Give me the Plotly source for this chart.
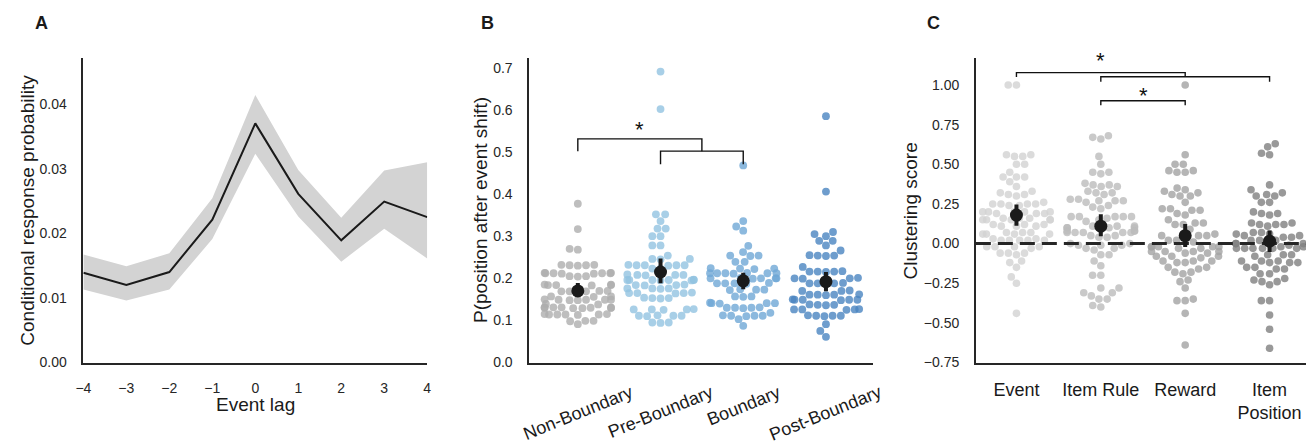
import math
import plotly.graph_objects as go

FONT = "Liberation Sans, Arial, Helvetica, sans-serif"
W, H = 1314, 445
OX, OY = 8.0, 8.0  # page body margin offset
INK = "#262626"

# ---------------- Panel A data ----------------
lags = [-4, -3, -2, -1, 0, 1, 2, 3, 4]
crp_mean = [0.0139, 0.0120, 0.0140, 0.0221, 0.0370, 0.0261, 0.0189, 0.0249, 0.0225]
crp_upper = [0.0167, 0.0149, 0.0169, 0.0254, 0.0414, 0.0298, 0.0224, 0.0297, 0.0310]
crp_lower = [0.0113, 0.0096, 0.0113, 0.0191, 0.0323, 0.0226, 0.0156, 0.0207, 0.0161]
a_yticks = [0.00, 0.01, 0.02, 0.03, 0.04]

# ---------------- Panel B data ----------------
b_categories = ["Non-Boundary", "Pre-Boundary", "Boundary", "Post-Boundary"]
non_boundary = [0.377, 0.317, 0.270, 0.268,
                0.232, 0.231, 0.231, 0.230, 0.232,
                0.213, 0.212, 0.212, 0.211, 0.213, 0.212, 0.211, 0.212,
                0.205, 0.204, 0.205,
                0.185, 0.184, 0.184, 0.183, 0.185, 0.184,
                0.170, 0.169, 0.169, 0.168, 0.170, 0.169,
                0.157, 0.156, 0.157,
                0.149, 0.148, 0.149, 0.150, 0.149, 0.148, 0.149,
                0.138, 0.139,
                0.131, 0.130, 0.130, 0.129, 0.131, 0.130, 0.130, 0.129, 0.131,
                0.115, 0.114, 0.114, 0.113, 0.115, 0.114, 0.114,
                0.099, 0.098, 0.099,
                0.091]
pre_boundary = [0.691, 0.602,
                0.352, 0.352, 0.336, 0.318, 0.318, 0.300, 0.300, 0.278, 0.278, 0.254,
                0.246, 0.246, 0.245,
                0.231, 0.231, 0.232, 0.231, 0.230, 0.231,
                0.223, 0.223,
                0.208, 0.208, 0.207, 0.208, 0.209,
                0.196, 0.196, 0.195, 0.196, 0.197, 0.196, 0.196, 0.195,
                0.184, 0.184, 0.183, 0.185,
                0.176, 0.176, 0.175, 0.176,
                0.165, 0.165, 0.164, 0.166, 0.165,
                0.153, 0.153, 0.152, 0.154,
                0.126, 0.126, 0.125, 0.127, 0.126,
                0.111, 0.111, 0.110, 0.112, 0.111,
                0.095, 0.095, 0.094]
boundary = [0.468,
            0.336, 0.323, 0.313, 0.277, 0.262,
            0.254, 0.254, 0.253,
            0.239, 0.239,
            0.223, 0.223, 0.222, 0.224,
            0.212, 0.212, 0.211, 0.212, 0.213, 0.212, 0.212,
            0.200, 0.200, 0.199, 0.201, 0.200, 0.200,
            0.188, 0.188, 0.187, 0.189, 0.188,
            0.173, 0.173, 0.172, 0.174,
            0.157, 0.157, 0.156,
            0.141, 0.141, 0.140, 0.142, 0.141,
            0.130, 0.130, 0.129, 0.131, 0.130,
            0.118,
            0.111, 0.111, 0.110, 0.112, 0.111,
            0.103,
            0.087]
post_boundary = [0.585, 0.406,
                 0.305, 0.300, 0.310,
                 0.289, 0.289, 0.278, 0.266,
                 0.254, 0.254, 0.253, 0.255,
                 0.227,
                 0.216, 0.216, 0.215, 0.217, 0.216,
                 0.200, 0.200, 0.199, 0.201,
                 0.188, 0.188, 0.187, 0.189, 0.188,
                 0.170, 0.170, 0.171,
                 0.161, 0.161, 0.160, 0.162, 0.161,
                 0.149, 0.149, 0.148, 0.150, 0.149, 0.149,
                 0.137, 0.137, 0.136, 0.138,
                 0.126, 0.126, 0.125, 0.127, 0.126,
                 0.111, 0.111, 0.110, 0.112, 0.111,
                 0.091, 0.075, 0.061]
b_means = [0.170, 0.215, 0.194, 0.192]
b_ci_low = [0.157, 0.188, 0.174, 0.169]
b_ci_high = [0.189, 0.247, 0.213, 0.215]
b_yticks = [0.0, 0.1, 0.2, 0.3, 0.4, 0.5, 0.6, 0.7]
b_colors = ["rgb(174,174,174)", "rgb(146,195,225)", "rgb(111,167,214)", "rgb(74,132,193)"]

# ---------------- Panel C data ----------------
c_categories = ["Event", "Item Rule", "Reward", "Item<br>Position"]
event = [1.00, 1.00,
         0.56, 0.56, 0.55, 0.55,
         0.50, 0.50, 0.45, 0.42, 0.42, 0.42, 0.39, 0.36,
         0.33, 0.32, 0.31, 0.31, 0.30,
         0.26, 0.25, 0.25, 0.25, 0.24, 0.24, 0.25,
         0.20, 0.20, 0.20, 0.19, 0.20, 0.19, 0.20, 0.19,
         0.16, 0.15, 0.15, 0.16, 0.15, 0.15, 0.16, 0.15,
         0.12, 0.11, 0.12, 0.11, 0.12, 0.11,
         0.07, 0.06, 0.07, 0.06, 0.06, 0.07, 0.06,
         0.02, 0.02, 0.03, 0.02, 0.02, 0.03, 0.02,
         -0.02, -0.02, -0.03, -0.02, -0.02,
         -0.06, -0.07, -0.06, -0.06,
         -0.11, -0.12, -0.15, -0.21, -0.25, -0.44]
item_rule = [0.68, 0.67, 0.66,
             0.55, 0.50,
             0.45, 0.44, 0.45,
             0.38, 0.37, 0.36, 0.37, 0.36,
             0.33, 0.32, 0.31, 0.32,
             0.28, 0.27, 0.27, 0.28, 0.27, 0.26,
             0.24, 0.23, 0.22,
             0.17, 0.17, 0.17, 0.17, 0.16, 0.17,
             0.15, 0.14,
             0.11, 0.10, 0.10, 0.11, 0.10, 0.10, 0.11, 0.10,
             0.08, 0.07, 0.07, 0.08, 0.07, 0.07, 0.08, 0.07,
             0.05, 0.04, 0.05, 0.04,
             0.00, -0.01, -0.01, 0.00, -0.01,
             -0.03, -0.03, -0.04,
             -0.07, -0.07,
             -0.11, -0.14, -0.20, -0.20,
             -0.28, -0.28, -0.31, -0.31, -0.33, -0.35, -0.35, -0.39, -0.40]
reward = [1.00,
          0.56, 0.50, 0.50,
          0.46, 0.45, 0.45, 0.46,
          0.35, 0.34, 0.33, 0.32, 0.31, 0.30, 0.30,
          0.26,
          0.22, 0.21, 0.21, 0.22,
          0.19, 0.18,
          0.15,
          0.13, 0.12, 0.12, 0.13,
          0.09,
          0.06, 0.05, 0.05, 0.06, 0.05,
          0.02, 0.01, 0.01, 0.02,
          -0.02, -0.02, -0.02, -0.03, -0.02, -0.02, -0.03,
          -0.05, -0.05, -0.06, -0.05, -0.05, -0.06,
          -0.08, -0.08, -0.09, -0.08,
          -0.11, -0.11, -0.12, -0.11, -0.12,
          -0.15, -0.16, -0.15,
          -0.18, -0.19, -0.18,
          -0.24, -0.23,
          -0.28,
          -0.35, -0.36, -0.36,
          -0.44,
          -0.64]
item_position = [0.63, 0.61, 0.57, 0.56,
                 0.37,
                 0.34, 0.31, 0.30, 0.30, 0.32,
                 0.26, 0.26,
                 0.20, 0.19, 0.19, 0.18,
                 0.13, 0.12, 0.12, 0.13, 0.12, 0.11,
                 0.07, 0.06, 0.06, 0.07,
                 0.05, 0.04, 0.05, 0.04,
                 0.02, 0.02, 0.01, 0.02,
                 0.00, 0.00, -0.01, 0.00,
                 -0.03, -0.03, -0.02, -0.03, -0.03, -0.02, -0.03, -0.03,
                 -0.07, -0.07, -0.08, -0.07,
                 -0.11, -0.12, -0.11, -0.12, -0.11, -0.12,
                 -0.16, -0.15, -0.16, -0.15,
                 -0.19, -0.19,
                 -0.24, -0.24, -0.23, -0.22, -0.26,
                 -0.36, -0.36,
                 -0.45,
                 -0.54,
                 -0.66]
c_means = [0.180, 0.110, 0.050, 0.015]
c_ci_low = [0.113, 0.046, -0.022, -0.053]
c_ci_high = [0.247, 0.185, 0.123, 0.082]
c_yticks = [-0.75, -0.50, -0.25, 0.00, 0.25, 0.50, 0.75, 1.00]
c_colors = ["rgb(210,210,210)", "rgb(188,188,188)", "rgb(162,162,162)", "rgb(128,128,128)"]

# ---------------- geometry (screen pixels of the target) ----------------
TOP, BOT = 59.0, 369.0
A_X = (76.0, 423.0)
B_X = (526.0, 873.0)
C_X = (976.7, 1314.0)
A_YR = [0.0, 0.0471]
B_YR = [0.0, 0.723]
C_YR = [-0.75, 1.17]
B_XR = [-0.587, 3.57]
C_XR = [-0.481, 3.48]


def fx(px):
    return (px - OX) / W


def fy(py):
    return 1.0 - (py - OY) / H


def swarm(values, ypx, xpx, d=8.3, half=33.0):
    order = sorted(range(len(values)), key=lambda i: values[i])
    placed = []
    raw = [0.0] * len(values)
    for i in order:
        y = values[i] * ypx
        near = [(px, py) for px, py in placed if abs(py - y) < d]
        cands = [0.0]
        for px, py in near:
            dx = math.sqrt(max(d * d - (py - y) ** 2, 0.0))
            cands += [px - dx, px + dx]
        cands.sort(key=lambda c: (round(abs(c), 6), c))
        chosen = 0.0
        for c in cands:
            if all((c - px) ** 2 + (y - py) ** 2 >= d * d - 1e-6 for px, py in near):
                chosen = c
                break
        placed.append((chosen, y))
        raw[i] = chosen
    return [max(-half, min(half, r)) / xpx for r in raw]


fig = go.Figure()

# ---- Panel A ----
fig.add_trace(go.Scatter(x=lags, y=crp_upper, mode="lines", line=dict(width=0),
                         hoverinfo="skip", showlegend=False, xaxis="x", yaxis="y"))
fig.add_trace(go.Scatter(x=lags, y=crp_lower, mode="lines", line=dict(width=0),
                         fill="tonexty", fillcolor="rgb(211,211,211)",
                         hoverinfo="skip", showlegend=False, xaxis="x", yaxis="y"))
fig.add_trace(go.Scatter(x=lags, y=crp_mean, mode="lines", line=dict(color="#1a1a1a", width=2),
                         showlegend=False, xaxis="x", yaxis="y"))

# ---- Panel B ----
b_ypx = (BOT - TOP) / (B_YR[1] - B_YR[0])
b_xpx = (B_X[1] - B_X[0]) / (B_XR[1] - B_XR[0])
for k, vals in enumerate([non_boundary, pre_boundary, boundary, post_boundary]):
    offs = swarm(vals, b_ypx, b_xpx, d=8.3, half=33.5)
    fig.add_trace(go.Scatter(x=[k + o for o in offs], y=vals, mode="markers",
                             marker=dict(size=7.8, color=b_colors[k], opacity=0.8, line=dict(width=0)),
                             showlegend=False, xaxis="x2", yaxis="y2"))
fig.add_trace(go.Scatter(x=list(range(4)), y=b_means, mode="markers",
                         marker=dict(size=13, color="#1a1a1a"),
                         error_y=dict(type="data", array=[h - m for h, m in zip(b_ci_high, b_means)],
                                      arrayminus=[m - l for m, l in zip(b_means, b_ci_low)],
                                      thickness=4, width=0, color="#1a1a1a"),
                         showlegend=False, xaxis="x2", yaxis="y2"))

# ---- Panel C ----
c_ypx = (BOT - TOP) / (C_YR[1] - C_YR[0])
c_xpx = (C_X[1] - C_X[0]) / (C_XR[1] - C_XR[0])
for k, vals in enumerate([event, item_rule, reward, item_position]):
    offs = swarm(vals, c_ypx, c_xpx, d=8.3, half=34.0)
    fig.add_trace(go.Scatter(x=[k + o for o in offs], y=vals, mode="markers",
                             marker=dict(size=7.6, color=c_colors[k], opacity=0.8, line=dict(width=0)),
                             showlegend=False, xaxis="x3", yaxis="y3"))
fig.add_trace(go.Scatter(x=C_XR, y=[0, 0], mode="lines",
                         line=dict(color=INK, width=3, dash="15px,7px"),
                         showlegend=False, xaxis="x3", yaxis="y3"))
fig.add_trace(go.Scatter(x=list(range(4)), y=c_means, mode="markers",
                         marker=dict(size=13, color="#1a1a1a"),
                         error_y=dict(type="data", array=[h - m for h, m in zip(c_ci_high, c_means)],
                                      arrayminus=[m - l for m, l in zip(c_means, c_ci_low)],
                                      thickness=4, width=0, color="#1a1a1a"),
                         showlegend=False, xaxis="x3", yaxis="y3"))

# ---- brackets ----
def bracket(xa, ya, x0, x1, y, y0_end, y1_end):
    fig.add_shape(type="path",
                  path=f"M {x0},{y0_end} L {x0},{y} L {x1},{y} L {x1},{y1_end}",
                  xref=xa, yref=ya, line=dict(color="#111111", width=1.4), layer="above")

bracket("x2", "y2", 0, 1.5, 0.531, 0.502, 0.502)
bracket("x2", "y2", 1, 2, 0.502, 0.471, 0.471)
bracket("x3", "y3", 0, 2, 1.078, 1.050, 1.052)
bracket("x3", "y3", 1, 3, 1.052, 1.021, 1.021)
bracket("x3", "y3", 1, 2, 0.901, 0.872, 0.872)

annotations = []
STAR_FONT = dict(family=FONT, size=22, color="#111111")
annotations.append(dict(text="*", x=0.75, y=0.565, xref="x2", yref="y2", showarrow=False,
                        xanchor="center", yanchor="middle", yshift=-5, font=STAR_FONT))
annotations.append(dict(text="*", x=1.0, y=fy(56.7), xref="x3", yref="paper", showarrow=False,
                        xanchor="center", yanchor="middle", yshift=-5, font=STAR_FONT))
annotations.append(dict(text="*", x=1.5, y=0.965, xref="x3", yref="y3", showarrow=False,
                        xanchor="center", yanchor="middle", yshift=-5, font=STAR_FONT))

# panel letters
for letter, x in [("A", 33.5), ("B", 483.7), ("C", 934.0)]:
    annotations.append(dict(text=f"<b>{letter}</b>", x=fx(x), y=fy(23), xref="paper", yref="paper",
                            showarrow=False, xanchor="center", yanchor="middle",
                            font=dict(family=FONT, size=18, color="#1a1a1a")))

# axis titles
TITLE_FONT = dict(family=FONT, size=19, color="#1a1a1a")
annotations.append(dict(text="Conditional response probability", x=fx(19.5), y=fy(214), xref="paper",
                        yref="paper", textangle=-90, showarrow=False, xanchor="center",
                        yanchor="middle", font=TITLE_FONT))
annotations.append(dict(text="Event lag", x=fx(249.5), y=fy(412), xref="paper", yref="paper",
                        showarrow=False, xanchor="center", yanchor="middle", font=TITLE_FONT))
annotations.append(dict(text="P(position after event shift)", x=fx(477), y=fy(214), xref="paper",
                        yref="paper", textangle=-90, showarrow=False, xanchor="center",
                        yanchor="middle", font=TITLE_FONT))
annotations.append(dict(text="Clustering score", x=fx(910.5), y=fy(215), xref="paper",
                        yref="paper", textangle=-90, showarrow=False, xanchor="center",
                        yanchor="middle", font=TITLE_FONT))
# rotated category labels for panel B
for k, name in enumerate(b_categories):
    annotations.append(dict(text=name, x=k, y=fy(386), xref="x2", yref="paper", textangle=-22,
                            showarrow=False, xanchor="center", yanchor="top",
                            font=dict(family=FONT, size=18, color="#1a1a1a")))

TICK_FONT = dict(family=FONT, size=14, color=INK)
common_axis = dict(showline=True, linecolor=INK, linewidth=1.6, showgrid=False, zeroline=False,
                   ticks="", tickfont=TICK_FONT, fixedrange=True)
ydom = [fy(BOT), fy(TOP)]

c_dom_end = min(1.0, fx(C_X[1]) + 0.02)
c_range_end = C_XR[0] + (C_XR[1] - C_XR[0]) * (c_dom_end - fx(C_X[0])) / (fx(C_X[1]) - fx(C_X[0]))

fig.update_layout(
    width=W, height=H, margin=dict(l=0, r=0, t=0, b=0),
    paper_bgcolor="white", plot_bgcolor="white", showlegend=False,
    font=dict(family=FONT, color=INK),
    xaxis=dict(domain=[fx(A_X[0]), fx(A_X[1])], anchor="y", range=[-4, 4], tickvals=lags,
               ticklabelstandoff=12, **common_axis),
    yaxis=dict(domain=ydom, anchor="x", range=A_YR, tickvals=a_yticks, tickformat=".2f",
               ticklabelstandoff=12, **common_axis),
    xaxis2=dict(domain=[fx(B_X[0]), fx(B_X[1])], anchor="y2", range=B_XR, tickvals=[0, 1, 2, 3],
                showticklabels=False, **common_axis),
    yaxis2=dict(domain=ydom, anchor="x2", range=B_YR, tickvals=b_yticks, tickformat=".1f",
                ticklabelstandoff=12, **common_axis),
    xaxis3=dict(domain=[fx(C_X[0]), c_dom_end], anchor="y3", range=[C_XR[0], c_range_end],
                tickvals=[0, 1, 2, 3], ticktext=c_categories, ticklabelstandoff=10,
                **{**common_axis, "tickfont": dict(family=FONT, size=18, color="#1a1a1a")}),
    yaxis3=dict(domain=ydom, anchor="x3", range=C_YR, tickvals=c_yticks, tickformat=".2f",
                ticklabelstandoff=12, **common_axis),
    annotations=annotations,
)

fig.write_html("out.html")
